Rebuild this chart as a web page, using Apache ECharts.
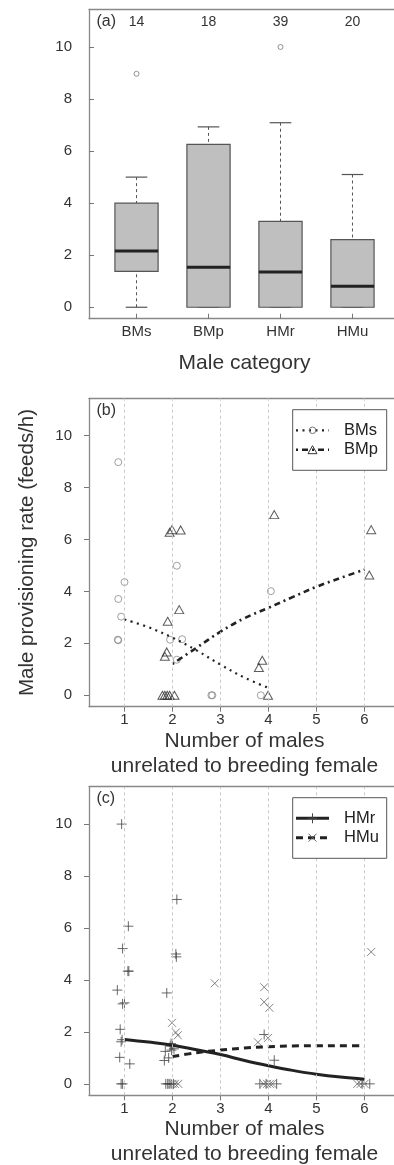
<!DOCTYPE html>
<html>
<head>
<meta charset="utf-8">
<script src="https://cdn.jsdelivr.net/npm/echarts@6.0.0/dist/echarts.min.js"></script>
<style>
html, body { margin: 0; padding: 0; background: #fff; }
#chart { width: 394px; height: 1165px; }
</style>
</head>
<body>
<div id="chart"></div>
<script>
// panel (a) box summaries
var boxCats = ['BMs', 'BMp', 'HMr', 'HMu']
var boxPos = [1, 2, 3, 4]
var boxCounts = [14, 18, 39, 20]
var boxLow = [0, 0, 0, 0]
var boxQ1 = [1.38, 0, 0, 0]
var boxMed = [2.16, 1.54, 1.35, 0.81]
var boxQ3 = [4.0, 6.26, 3.3, 2.6]
var boxHigh = [5.0, 6.93, 7.09, 5.1]
var outX = [1, 3]
var outY = [8.97, 10.0]

var yTicks = [0, 2, 4, 6, 8, 10]
var xTicks = [1, 2, 3, 4, 5, 6]

// panel (b)
var bmsX = [0.87, 2.09, 1.0, 0.87, 0.93, 0.86, 0.87, 1.95, 2.2, 2.09, 2.81, 2.83, 4.05, 3.84]
var bmsY = [8.98, 4.99, 4.36, 3.71, 3.03, 2.14, 2.12, 2.14, 2.16, 1.37, 0, 0, 4.01, 0]
var bmpX = [1.94, 1.99, 2.17, 4.12, 6.14, 6.10, 2.14, 1.90, 1.88, 1.84, 3.87, 3.80, 3.99, 1.79, 1.84, 1.89, 1.94, 2.04]
var bmpY = [6.28, 6.38, 6.37, 6.96, 6.38, 4.63, 3.30, 2.85, 1.67, 1.50, 1.35, 1.07, 0, 0, 0, 0, 0, 0]
var bmsFitX = [1, 1.5, 2, 2.5, 3, 3.5, 4]
var bmsFitY = [2.92, 2.62, 2.22, 1.73, 1.18, 0.68, 0.28]
var bmpFitX = [2, 2.5, 3, 3.5, 4, 4.5, 5, 5.5, 6]
var bmpFitY = [1.21, 1.83, 2.45, 2.97, 3.37, 3.78, 4.18, 4.52, 4.84]

// panel (c)
var hmrX = [0.94, 1.08, 0.96, 1.07, 1.09, 0.85, 0.96, 1.0, 0.91, 0.95, 0.93, 0.90, 1.11, 0.93, 0.96,
    2.09, 2.07, 2.08, 1.88, 1.97, 2.0, 1.95, 2.03, 1.98, 1.85, 1.92, 1.83, 1.86, 1.90, 1.93, 1.97, 2.02,
    3.91, 4.12, 3.82, 3.95, 4.17, 5.95, 6.11]
var hmrY = [10.0, 6.07, 5.21, 4.34, 4.34, 3.61, 3.08, 3.12, 2.10, 1.70, 1.62, 1.02, 0.77, 0, 0,
    7.10, 5.0, 4.89, 3.50, 1.55, 1.50, 1.45, 1.35, 1.30, 1.25, 1.0, 0.90, 0, 0, 0, 0, 0,
    1.90, 0.91, 0, 0, 0, 0, 0]
var hmuX = [6.14, 2.88, 3.91, 3.91, 4.02, 3.99, 3.78, 1.99, 2.07, 2.11, 2.0, 2.05, 2.12, 3.90, 3.97, 4.03, 4.08, 5.85, 5.92, 6.0]
var hmuY = [5.08, 3.87, 3.72, 3.15, 2.93, 1.77, 1.60, 2.35, 1.98, 1.87, 0, 0, 0, 0, 0, 0, 0, 0, 0, 0]
var hmrFitX = [1, 1.5, 2, 2.5, 3, 3.5, 4, 4.5, 5, 5.5, 6]
var hmrFitY = [1.71, 1.61, 1.49, 1.31, 1.13, 0.90, 0.70, 0.52, 0.37, 0.26, 0.18]
var hmuFitX = [2, 2.5, 3, 3.5, 4, 4.5, 5, 5.5, 6]
var hmuFitY = [1.05, 1.20, 1.30, 1.38, 1.43, 1.46, 1.47, 1.47, 1.46]

var FONT = 'Liberation Sans, Arial, sans-serif'
var TXT = '#333'
var PLUS = 'path://M0,5L10,5M5,0L5,10'
var CROSS = 'path://M0,0L10,10M10,0L0,10'
var FRAME = { show: true, onZero: false, lineStyle: { color: '#888', width: 1.3 } }

function pairs(xs, ys) {
    return xs.map(function (x, i) { return [x, ys[i]] })
}

var boxData = boxPos.map(function (p, i) {
    return [p, boxLow[i], boxQ1[i], boxMed[i], boxQ3[i], boxHigh[i]]
})

function renderBox(params, api) {
    var x = api.value(0)
    var half = 0.3
    var bl = api.coord([x - half, api.value(2)])
    var tr = api.coord([x + half, api.value(4)])
    var med = api.coord([x, api.value(3)])
    var lo = api.coord([x, api.value(1)])
    var hi = api.coord([x, api.value(5)])
    var cap = (tr[0] - bl[0]) / 4
    var dash = { stroke: '#555', lineWidth: 1, lineDash: [3, 3] }
    var solid = { stroke: '#555', lineWidth: 1.2 }
    return {
        type: 'group',
        children: [
            { type: 'line', shape: { x1: hi[0], y1: hi[1], x2: hi[0], y2: tr[1] }, style: dash },
            { type: 'line', shape: { x1: lo[0], y1: lo[1], x2: lo[0], y2: bl[1] }, style: dash },
            { type: 'line', shape: { x1: hi[0] - cap, y1: hi[1], x2: hi[0] + cap, y2: hi[1] }, style: solid },
            { type: 'line', shape: { x1: lo[0] - cap, y1: lo[1], x2: lo[0] + cap, y2: lo[1] }, style: solid },
            {
                type: 'rect',
                shape: { x: bl[0], y: tr[1], width: tr[0] - bl[0], height: bl[1] - tr[1] },
                style: { fill: '#bfbfbf', stroke: '#555', lineWidth: 1.2 }
            },
            { type: 'line', shape: { x1: bl[0], y1: med[1], x2: tr[0], y2: med[1] }, style: { stroke: '#222', lineWidth: 3 } }
        ]
    }
}

function valueY(gridIndex, tickInside, name) {
    var ax = {
        type: 'value',
        gridIndex: gridIndex,
        min: -0.44,
        max: 11.44,
        axisLine: FRAME,
        splitLine: { show: false },
        axisTick: { show: true, inside: tickInside, length: 5, customValues: yTicks, lineStyle: { color: '#777' } },
        axisLabel: { customValues: yTicks, margin: 17, color: TXT, fontSize: 15, fontFamily: FONT }
    }
    if (name) {
        ax.name = name
        ax.nameLocation = 'middle'
        ax.nameGap = 51
        ax.nameTextStyle = { color: TXT, fontSize: 20.5, fontFamily: FONT }
    }
    return ax
}

function countX(gridIndex) {
    return {
        type: 'value',
        gridIndex: gridIndex,
        min: 0.26,
        max: 6.74,
        axisLine: FRAME,
        splitLine: { show: false },
        axisTick: { show: true, length: 5, customValues: xTicks, lineStyle: { color: '#777' } },
        axisLabel: { customValues: xTicks, margin: 6, color: TXT, fontSize: 15, fontFamily: FONT },
        name: 'Number of males\nunrelated to breeding female',
        nameLocation: 'middle',
        nameGap: 20,
        nameTextStyle: { color: TXT, fontSize: 21, lineHeight: 25, fontFamily: FONT }
    }
}

// top edge of the frame only
function topEdge(gridIndex, min, max) {
    return {
        type: 'value',
        gridIndex: gridIndex,
        position: 'top',
        min: min,
        max: max,
        axisLine: FRAME,
        splitLine: { show: false },
        axisTick: { show: false },
        axisLabel: { show: false }
    }
}

var gridLines = {
    silent: true,
    symbol: ['none', 'none'],
    label: { show: false },
    lineStyle: { color: '#c8c8c8', type: [3, 3], width: 1 },
    data: xTicks.map(function (v) { return { xAxis: v } })
}

function fitLine(xi, yi, xs, ys, width, dash) {
    return {
        type: 'line',
        xAxisIndex: xi,
        yAxisIndex: yi,
        data: pairs(xs, ys),
        smooth: 0.4,
        showSymbol: false,
        lineStyle: { color: '#222', width: width, type: dash, cap: 'butt' },
        z: 3
    }
}

function openMarks(xi, yi, xs, ys, symbol, size, color, extra) {
    var s = {
        type: 'scatter',
        xAxisIndex: xi,
        yAxisIndex: yi,
        data: pairs(xs, ys),
        symbol: symbol,
        symbolSize: size,
        itemStyle: { color: 'rgba(0,0,0,0)', borderColor: color, borderWidth: 1 }
    }
    if (extra) s.markLine = extra
    return s
}

// legend keys
function seg(x1, y1, x2, y2, color) {
    return { type: 'line', z: 102, shape: { x1: x1, y1: y1, x2: x2, y2: y2 }, style: { stroke: color, lineWidth: 1 } }
}

function legend(top, rows) {
    var els = [{
        type: 'rect', z: 100,
        shape: { x: 292.7, y: top, width: 94, height: 60.6 },
        style: { fill: '#fff', stroke: '#555', lineWidth: 1 }
    }]
    rows.forEach(function (r, i) {
        var y = top + 20.6 + i * 19.4
        els.push({
            type: 'line', z: 101,
            shape: { x1: 296, y1: y, x2: 329, y2: y },
            style: { stroke: '#222', lineWidth: r.width, lineDash: r.dash }
        })
        els = els.concat(r.key(312.5, y))
        els.push({
            type: 'text', z: 101,
            style: { text: r.name, x: 344, y: y, font: '16.5px ' + FONT, fill: '#222', verticalAlign: 'middle' }
        })
    })
    return els
}

function circleKey(x, y) {
    return [{ type: 'circle', z: 102, shape: { cx: x, cy: y, r: 3.3 }, style: { fill: 'none', stroke: '#777', lineWidth: 1 } }]
}
function triKey(x, y) {
    return [{ type: 'polygon', z: 102, shape: { points: [[x - 4.5, y + 4], [x + 4.5, y + 4], [x, y - 4]] }, style: { fill: 'none', stroke: '#333', lineWidth: 1 } }]
}
function plusKey(x, y) {
    return [seg(x - 5, y, x + 5, y, '#444'), seg(x, y - 5, x, y + 5, '#444')]
}
function crossKey(x, y) {
    return [seg(x - 4, y - 4, x + 4, y + 4, '#666'), seg(x + 4, y - 4, x - 4, y + 4, '#666')]
}

function panelLabel(t, y) {
    return { type: 'text', z: 100, style: { text: t, x: 96.5, y: y, font: '16px ' + FONT, fill: TXT, verticalAlign: 'middle' } }
}

var graphics = [panelLabel('(a)', 21.5), panelLabel('(b)', 411), panelLabel('(c)', 799)]
    .concat(legend(409.7, [
        { name: 'BMs', width: 2.2, dash: [2, 4.5], key: circleKey },
        { name: 'BMp', width: 2.6, dash: [2, 4, 6, 4], key: triKey }
    ]))
    .concat(legend(797.7, [
        { name: 'HMr', width: 3, dash: null, key: plusKey },
        { name: 'HMu', width: 3, dash: [7, 5], key: crossKey }
    ]))

function panelGrid(top, height) {
    return { left: 89, top: top, width: 311, height: height, outerBoundsMode: 'none' }
}

var chart = echarts.init(document.getElementById('chart'), null, { renderer: 'canvas' })
chart.setOption({
    animation: false,
    backgroundColor: '#fff',
    grid: [
        panelGrid(9.5, 309.2),
        panelGrid(398.3, 308.4),
        panelGrid(786.7, 308.6)
    ],
    xAxis: [
        {
            type: 'value',
            gridIndex: 0,
            min: 0.34,
            max: 4.66,
            axisLine: FRAME,
            splitLine: { show: false },
            axisTick: { show: true, inside: true, length: 5, customValues: boxPos, lineStyle: { color: '#777' } },
            axisLabel: {
                customValues: boxPos, margin: 6, color: TXT, fontSize: 15, fontFamily: FONT,
                formatter: function (v) { return boxCats[Math.round(v) - 1] }
            },
            name: 'Male category',
            nameLocation: 'middle',
            nameGap: 32,
            nameTextStyle: { color: TXT, fontSize: 21, lineHeight: 25, fontFamily: FONT }
        },
        {
            type: 'value',
            gridIndex: 0,
            position: 'top',
            min: 0.34,
            max: 4.66,
            axisLine: FRAME,
            splitLine: { show: false },
            axisTick: { show: false },
            axisLabel: {
                inside: true, customValues: boxPos, margin: 5.5, color: TXT, fontSize: 14, fontFamily: FONT,
                formatter: function (v) { return String(boxCounts[Math.round(v) - 1]) }
            }
        },
        countX(1),
        countX(2),
        topEdge(1, 0.26, 6.74),
        topEdge(2, 0.26, 6.74)
    ],
    yAxis: [
        valueY(0, true),
        valueY(1, false, 'Male provisioning rate (feeds/h)'),
        valueY(2, false)
    ],
    graphic: graphics,
    series: [
        {
            type: 'custom',
            xAxisIndex: 0,
            yAxisIndex: 0,
            renderItem: renderBox,
            encode: { x: 0, y: [1, 2, 3, 4, 5] },
            data: boxData
        },
        openMarks(0, 0, outX, outY, 'circle', 5, '#777'),
        openMarks(2, 1, bmsX, bmsY, 'circle', 7, '#888', gridLines),
        openMarks(2, 1, bmpX, bmpY, 'triangle', [9, 8], '#333'),
        fitLine(2, 1, bmsFitX, bmsFitY, 2.2, [2, 4.5]),
        fitLine(2, 1, bmpFitX, bmpFitY, 2.6, [2, 4, 6, 4]),
        openMarks(3, 2, hmrX, hmrY, PLUS, 10, '#444', gridLines),
        openMarks(3, 2, hmuX, hmuY, CROSS, 8, '#666'),
        fitLine(3, 2, hmrFitX, hmrFitY, 3, 'solid'),
        fitLine(3, 2, hmuFitX, hmuFitY, 3, [7, 5])
    ]
})
</script>
</body>
</html>
